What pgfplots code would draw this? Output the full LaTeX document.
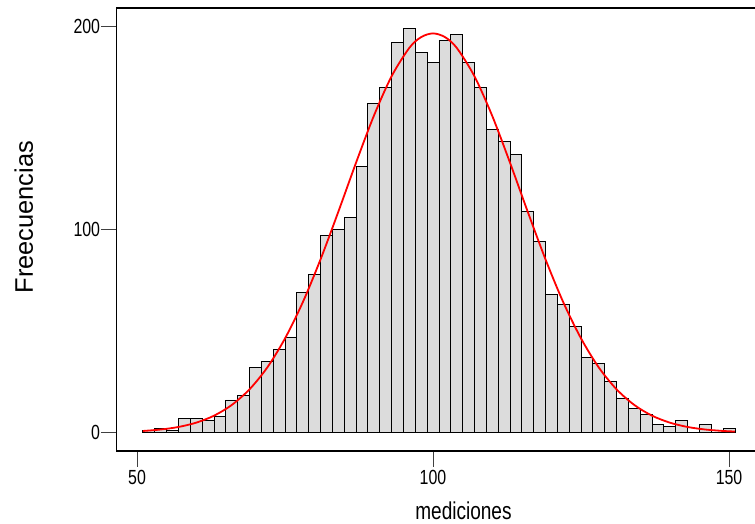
\documentclass[border=0pt]{standalone}
\usepackage{pgfplots}
\pgfplotsset{compat=1.18}
\usepackage{fontspec}
\setmainfont{Liberation Sans}[FakeStretch=0.78]
\newfontfamily\ylabfont{Liberation Sans}
\definecolor{barfill}{RGB}{220,220,220}
\begin{document}
\begin{tikzpicture}
\begin{axis}[
  at={(0,0)}, anchor=south west,
  scale only axis, width=645.3bp, height=443bp,
  xmin=46.5, xmax=155.5, ymin=-9.1, ymax=208.9,
  xtick={50,100,150}, ytick={0,100,200},
  xtick pos=bottom, ytick pos=left, tick align=outside,
  major tick length=15.5bp,
  tick style={line width=1bp, black!75},
  axis line style={line width=1.2bp},
  /pgf/number format/assume math mode=true,
  ticklabel style={font=\fontsize{20.5}{24}\selectfont},
  yticklabel style={inner xsep=0.5bp},
  every axis x label/.style={at={(axis description cs:0.538,-0.1542)}, anchor=base, font=\fontsize{24.5}{28}\selectfont},
  every axis y label/.style={at={(axis description cs:-0.1291,0.528)}, rotate=90, anchor=base, font=\ylabfont\fontsize{25.5}{30}\selectfont},
  xlabel={mediciones}, ylabel={Freecuencias},
]
\addplot[ybar interval, fill=barfill, draw=black, line width=0.9bp] coordinates {
(51,1) (53,2) (55,1) (57,7) (59,7) (61,6) (63,8) (65,16) (67,18) (69,32)
(71,35) (73,41) (75,47) (77,69) (79,78) (81,97) (83,100) (85,106) (87,131) (89,162)
(91,170) (93,192) (95,199) (97,187) (99,182) (101,193) (103,196) (105,182) (107,170) (109,149)
(111,143) (113,137) (115,109) (117,94) (119,68) (121,63) (123,52) (125,37) (127,34) (129,25)
(131,17) (133,12) (135,9) (137,4) (139,3) (141,6) (143,0) (145,4) (147,0) (149,2) (151,2)
};
\addplot[red, line width=1.8bp, smooth, no markers] coordinates {
(51,0.76) (54,1.47) (57,2.72) (60,4.85) (63,8.27) (66,13.54) (69,21.25) (72,32.0)
(75,46.3) (78,64.1) (81,85.2) (84,108.6) (87,132.8) (90,155.8) (93,175.3) (96,189.3)
(98,194.6) (100,196.4) (102,194.6) (104,189.3) (107,175.3) (110,155.8) (113,132.8)
(116,108.6) (119,85.2) (122,64.1) (125,46.3) (128,32.0) (131,21.25) (134,13.54)
(137,8.27) (140,4.85) (143,2.72) (146,1.47) (149,0.76) (151,0.48)
};
\end{axis}
\pgfresetboundingbox
\path[use as bounding box] (-116.3bp,-73bp) rectangle (638.7bp,451bp);
\end{tikzpicture}
\end{document}
